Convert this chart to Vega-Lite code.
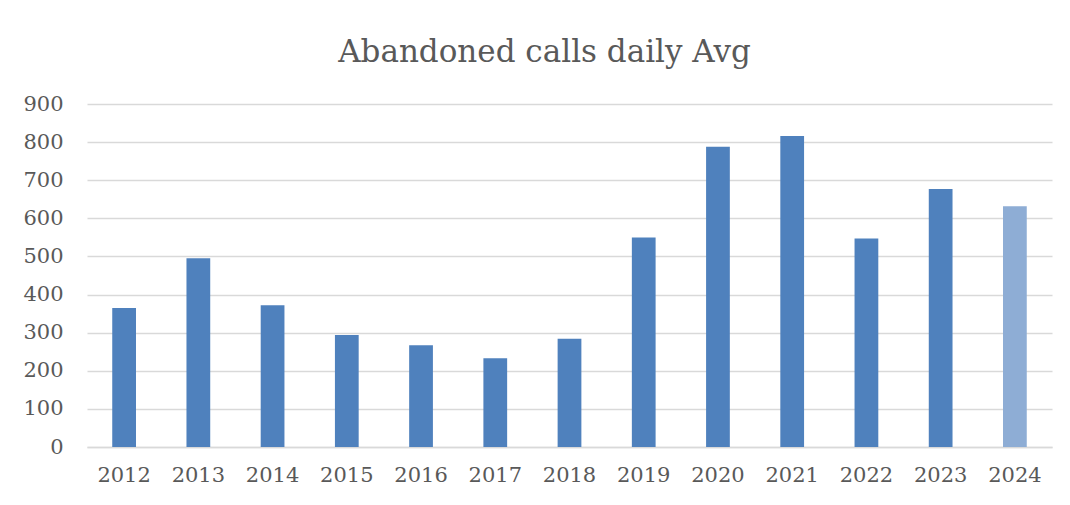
{
  "$schema": "https://vega.github.io/schema/vega-lite/v6.json",
  "width": 965,
  "height": 343,
  "autosize": {"type": "none"},
  "padding": {"left": 87, "top": 104, "right": 18, "bottom": 58},
  "background": "#ffffff",
  "title": {
    "text": "Abandoned calls daily Avg",
    "font": "DejaVu Serif",
    "fontSize": 31,
    "fontWeight": "normal",
    "color": "#595959",
    "anchor": "middle",
    "baseline": "alphabetic",
    "offset": 0,
    "dx": -25
  },
  "data": {
    "values": [
      {"year": "2012", "calls": 365},
      {"year": "2013", "calls": 495},
      {"year": "2014", "calls": 372},
      {"year": "2015", "calls": 294},
      {"year": "2016", "calls": 267},
      {"year": "2017", "calls": 233},
      {"year": "2018", "calls": 284},
      {"year": "2019", "calls": 550},
      {"year": "2020", "calls": 788},
      {"year": "2021", "calls": 816},
      {"year": "2022", "calls": 547},
      {"year": "2023", "calls": 677},
      {"year": "2024", "calls": 632}
    ]
  },
  "mark": {"type": "bar"},
  "encoding": {
    "x": {
      "field": "year",
      "type": "ordinal",
      "title": null,
      "scale": {"paddingInner": 0.68, "paddingOuter": 0.34},
      "axis": {
        "labelAngle": 0,
        "labelFont": "DejaVu Serif",
        "labelFontSize": 21,
        "labelColor": "#595959",
        "labelPadding": 17,
        "ticks": false,
        "domainColor": "#d9d9d9",
        "domainWidth": 1.5,
        "grid": false
      }
    },
    "y": {
      "field": "calls",
      "type": "quantitative",
      "title": null,
      "scale": {"domain": [0, 900], "nice": false},
      "axis": {
        "values": [0, 100, 200, 300, 400, 500, 600, 700, 800, 900],
        "labelFont": "DejaVu Serif",
        "labelFontSize": 21,
        "labelColor": "#595959",
        "labelPadding": 24,
        "ticks": false,
        "domain": false,
        "gridColor": "#d9d9d9",
        "gridWidth": 1.5
      }
    },
    "color": {
      "condition": {"test": "datum.year === '2024'", "value": "#8eadd5"},
      "value": "#4f81bd"
    }
  },
  "config": {"view": {"stroke": null}}
}
